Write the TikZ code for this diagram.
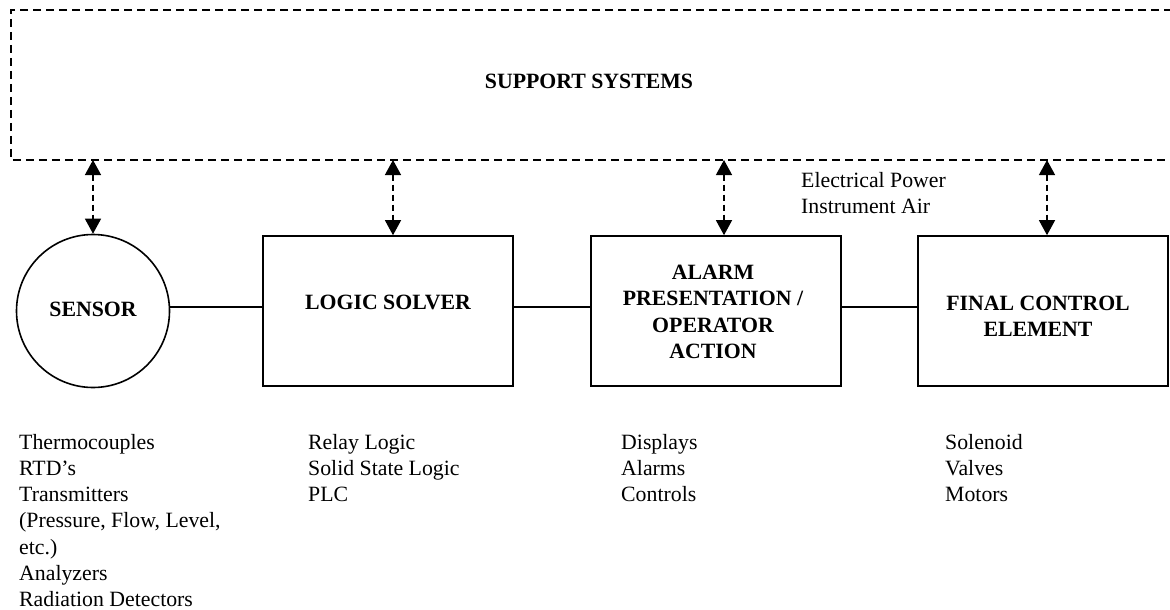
\documentclass[tikz,border=0pt]{standalone}
\usepackage{fontspec}
\setmainfont{Liberation Serif}
\usetikzlibrary{arrows.meta}
\begin{document}
\begin{tikzpicture}[x=1pt,y=-1pt,
  box/.style={draw,line width=1.6pt,minimum width=250pt,minimum height=150pt,inner sep=0pt},
  ttl/.style={font=\fontsize{21.8}{26.2}\selectfont\bfseries,align=center,inner sep=0pt},
  lst/.style={font=\fontsize{21.8}{26.2}\selectfont,align=left,anchor=north west,inner sep=0pt},
  link/.style={line width=1.6pt},
  sup/.style={line width=1.8pt,dash pattern=on 8pt off 5pt},
  dlink/.style={line width=1.3pt,dash pattern=on 6pt off 4pt,{Triangle[length=15pt,width=16pt]}-{Triangle[length=15pt,width=16pt]}}]
\useasboundingbox (0,0) rectangle (1170,610);
% support systems
\draw[sup] (1172,10) -- (11,10) -- (11,160) -- (1172,160);
\node[ttl] (support) at (589,81) {SUPPORT SYSTEMS};
\coordinate (s1) at (93,160);
\coordinate (s2) at (393,160);
\coordinate (s3) at (724,160);
\coordinate (s4) at (1047,160);
% main blocks
\node[draw,circle,line width=1.6pt,minimum size=153pt,inner sep=0pt] (sensor) at (93,311) {};
\node[ttl] (sensorT) at (93,309) {SENSOR};
\node[box] (logic) at (388,311) {};
\node[ttl] (logicT) at (388,302) {LOGIC SOLVER};
\node[box] (alarm) at (716,311) {};
\node[ttl] (alarmT) at (713,312) {ALARM\\PRESENTATION /\\OPERATOR\\ACTION};
\node[box] (final) at (1043,311) {};
\node[ttl] (finalT) at (1038,316) {FINAL CONTROL\\ELEMENT};
% connectors
\draw[link] ([yshift=4pt]sensor.east) -- ([yshift=4pt]logic.west);
\draw[link] ([yshift=4pt]logic.east) -- ([yshift=4pt]alarm.west);
\draw[link] ([yshift=4pt]alarm.east) -- ([yshift=4pt]final.west);
\draw[dlink] (s1) -- (sensor.north);
\draw[dlink] (s2) -- (s2 |- logic.north);
\draw[dlink] (s3) -- (s3 |- alarm.north);
\draw[dlink] (s4) -- (s4 |- final.north);
% labels
\node[lst] (power) at (801,172) {Electrical Power\\Instrument Air};
\node[lst] (l1) at (19,434) {Thermocouples\\RTD’s\\Transmitters\\(Pressure, Flow, Level,\\etc.)\\Analyzers\\Radiation Detectors};
\node[lst] (l2) at (308,434) {Relay Logic\\Solid State Logic\\PLC};
\node[lst] (l3) at (621,434) {Displays\\Alarms\\Controls};
\node[lst] (l4) at (945,434) {Solenoid\\Valves\\Motors};
\end{tikzpicture}
\end{document}
